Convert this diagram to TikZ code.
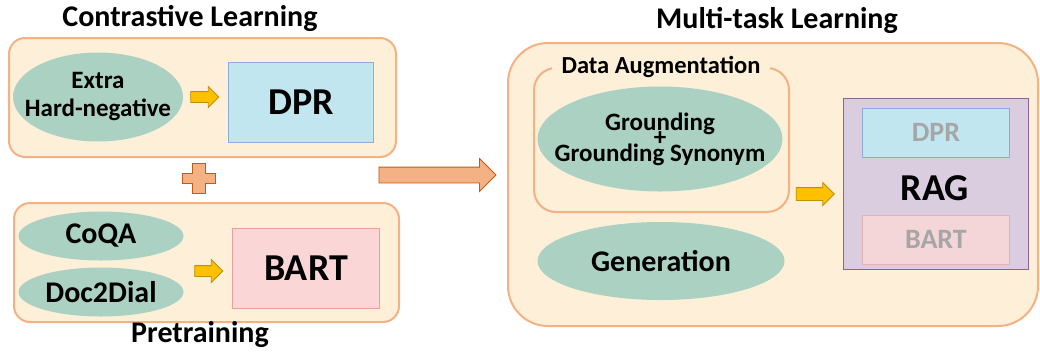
\documentclass[tikz,border=0pt]{standalone}
\usepackage{fontspec}
\setmainfont{Carlito}
\usepackage{tikz}
\usetikzlibrary{shapes.geometric,shapes.arrows,positioning}

\definecolor{panelfill}{RGB}{253,239,216}
\definecolor{panelline}{RGB}{244,177,131}
\definecolor{blobfill}{RGB}{171,209,195}
\definecolor{dprfill}{RGB}{193,230,240}
\definecolor{dprline}{RGB}{143,170,220}
\definecolor{bartfill}{RGB}{250,215,214}
\definecolor{bartline}{RGB}{232,160,155}
\definecolor{ragfill}{RGB}{218,205,224}
\definecolor{ragline}{RGB}{143,100,140}
\definecolor{yarrowfill}{RGB}{255,192,0}
\definecolor{yarrowline}{RGB}{191,144,0}
\definecolor{oarrowline}{RGB}{197,90,17}
\definecolor{fadetext}{RGB}{166,166,166}

\begin{document}
\begin{tikzpicture}[x=1pt,y=-1pt]
    \tikzstyle{panel}=[draw=panelline,fill=panelfill,line width=2pt,anchor=north west]
    \tikzstyle{blob}=[ellipse,fill=blobfill,inner sep=0pt]
    \tikzstyle{model}=[draw,line width=0.8pt,anchor=north west,inner sep=0pt]
    \tikzstyle{yarrow}=[single arrow,fill=yarrowfill,draw=yarrowline,line width=0.8pt,inner xsep=0pt]
    \tikzstyle{title}=[font=\fontsize{30}{32}\selectfont\bfseries]
    \tikzstyle{big}=[font=\fontsize{38}{40}\selectfont\bfseries]
    \tikzstyle{mid}=[font=\fontsize{30}{30}\selectfont\bfseries]
    \tikzstyle{small}=[font=\fontsize{25}{28}\selectfont\bfseries]
    \useasboundingbox (0,0) rectangle (1040,354);

    % left column
    \node[title] (cltitle) at (190,18) {Contrastive Learning};
    \node[panel,rounded corners=16pt,minimum width=387pt,minimum height=119pt] (clpanel) at (8,37) {};
    \node[blob,minimum width=170pt,minimum height=89pt] (hardneg) at (98,97) {};
    \node[small,align=center] (hardnegtext) at (hardneg) {Extra\\Hard-negative};
    \node[yarrow,minimum height=28pt,inner ysep=5pt,single arrow head extend=5pt] (clarrow) at (202,97) {};
    \node[model,fill=dprfill,draw=dprline,minimum width=145pt,minimum height=80pt] (dpr) at (228,62) {};
    \node[big] at (dpr.center) {DPR};

    \draw[fill=panelline,draw=oarrowline,line width=0.8pt]
        (192,163) -- (205,163) -- (205,173) -- (215,173) -- (215,183) -- (205,183)
        -- (205,193) -- (192,193) -- (192,183) -- (182,183) -- (182,173) -- (192,173) -- cycle;

    \node[panel,rounded corners=16pt,minimum width=385pt,minimum height=119pt] (ptpanel) at (13,202) {};
    \node[blob,minimum width=165pt,minimum height=49pt] (coqa) at (101,236) {};
    \node[mid] at (coqa) {CoQA};
    \node[blob,minimum width=165pt,minimum height=49pt] (doc2dial) at (101,292) {};
    \node[mid] at (doc2dial) {Doc2Dial};
    \node[yarrow,minimum height=28pt,inner ysep=5pt,single arrow head extend=6pt] (ptarrow) at (206,271) {};
    \node[model,fill=bartfill,draw=bartline,minimum width=147pt,minimum height=80pt] (bart) at (232,228) {};
    \node[big] at (bart.center) {BART};
    \node[title] (pttitle) at (200,335) {Pretraining};

    % big arrow
    \node[single arrow,fill=panelline,draw=oarrowline,line width=0.8pt,inner xsep=0pt,inner ysep=7.5pt,
        minimum height=117pt,single arrow head extend=8.5pt] (bigarrow) at (433.5,175) {};

    % right side
    \node[title] (mttitle) at (777,20) {Multi-task Learning};
    \node[panel,rounded corners=40pt,minimum width=530pt,minimum height=283pt] (mtpanel) at (507,42) {};
    \node[panel,rounded corners=22pt,minimum width=255pt,minimum height=144pt] (augpanel) at (533,67) {};
    \node[fill=panelfill,inner xsep=10pt,inner ysep=0pt,font=\fontsize{24.5}{25}\selectfont\bfseries] (augtitle) at (661,67) {Data Augmentation};
    \node[blob,minimum width=245pt,minimum height=105pt] (ground) at (660,139) {};
    \node[small,align=center] (groundtext) at (ground) {Grounding\\[-12.5pt]+\\[-12.5pt]Grounding Synonym};
    \node[blob,minimum width=247pt,minimum height=78pt] (gen) at (661,261) {};
    \node[mid] at (gen) {Generation};
    \node[yarrow,minimum height=38pt,inner ysep=6pt,single arrow head extend=5pt] (mtarrow) at (812,194) {};
    \node[model,fill=ragfill,draw=ragline,minimum width=185pt,minimum height=171pt] (rag) at (843,98) {};
    \node[model,fill=dprfill,draw=dprline,minimum width=147pt,minimum height=49pt] (ragdpr) at (862,108) {};
    \node[font=\fontsize{28}{30}\selectfont\bfseries,text=fadetext] at (ragdpr.center) {DPR};
    \node[big] (ragtext) at (935,188) {RAG};
    \node[model,fill=bartfill!80!ragfill,draw=bartline!60!ragfill,minimum width=147pt,minimum height=49pt] (ragbart) at (862,215) {};
    \node[font=\fontsize{28}{30}\selectfont\bfseries,text=fadetext] at (ragbart.center) {BART};
\end{tikzpicture}
\end{document}
